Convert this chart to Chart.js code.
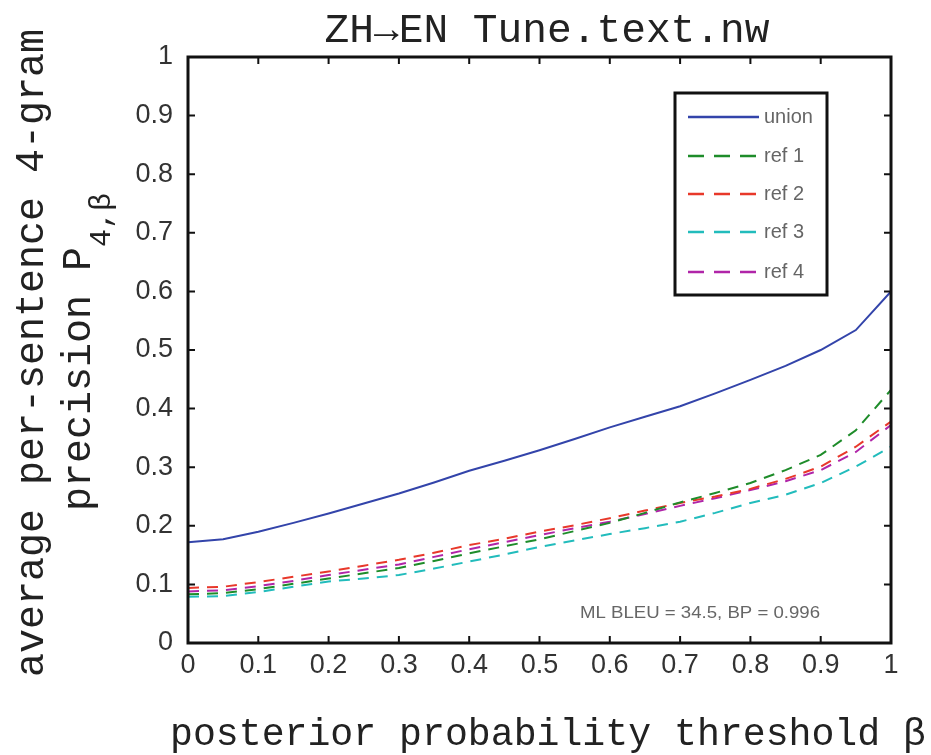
<!DOCTYPE html>
<html>
<head>
<meta charset="utf-8">
<script src="https://cdn.jsdelivr.net/npm/chart.js@4.4.1/dist/chart.umd.min.js"></script>
<style>
  html, body { margin: 0; padding: 0; background: #fff; }
  #wrap { width: 931px; height: 755px; }
</style>
</head>
<body>
<div id="wrap"><canvas id="precChart" width="931" height="755"></canvas></div>
<script>
// --- data ---
const betas = [0, 0.05, 0.1, 0.15, 0.2, 0.25, 0.3, 0.35, 0.4, 0.45, 0.5,
               0.55, 0.6, 0.65, 0.7, 0.75, 0.8, 0.85, 0.9, 0.95, 1];

const unionVals = [0.172, 0.177, 0.190, 0.205, 0.221, 0.238, 0.255, 0.274, 0.294, 0.311, 0.329,
                   0.348, 0.368, 0.386, 0.404, 0.426, 0.449, 0.473, 0.500, 0.534, 0.600];
const ref1Vals  = [0.083, 0.085, 0.092, 0.101, 0.110, 0.119, 0.128, 0.140, 0.153, 0.165, 0.177,
                   0.191, 0.205, 0.222, 0.240, 0.256, 0.273, 0.295, 0.321, 0.363, 0.432];
const ref2Vals  = [0.094, 0.096, 0.104, 0.113, 0.122, 0.132, 0.142, 0.154, 0.167, 0.178, 0.190,
                   0.201, 0.213, 0.226, 0.239, 0.250, 0.263, 0.280, 0.301, 0.335, 0.378];
const ref3Vals  = [0.079, 0.080, 0.087, 0.096, 0.105, 0.110, 0.116, 0.127, 0.139, 0.151, 0.164,
                   0.175, 0.186, 0.196, 0.207, 0.222, 0.239, 0.253, 0.273, 0.301, 0.335];
const ref4Vals  = [0.088, 0.090, 0.097, 0.106, 0.116, 0.125, 0.134, 0.147, 0.160, 0.172, 0.184,
                   0.196, 0.207, 0.220, 0.234, 0.247, 0.261, 0.276, 0.295, 0.326, 0.372];

const seriesLabels = ['union', 'ref 1', 'ref 2', 'ref 3', 'ref 4'];
const xTickLabels = ['0', '0.1', '0.2', '0.3', '0.4', '0.5', '0.6', '0.7', '0.8', '0.9', '1'];
const yTickLabels = ['0', '0.1', '0.2', '0.3', '0.4', '0.5', '0.6', '0.7', '0.8', '0.9', '1'];

const titleText = 'ZH\u2192EN Tune.text.nw';
const xTitle = 'posterior probability threshold \u03b2';
const yTitle1 = 'average per-sentence 4-gram';
const yTitle2 = 'precision P';
const yTitle2Sub = '4,\u03b2';
const noteText = 'ML BLEU = 34.5, BP = 0.996';

const colors = {
    blue: '#3344aa', green: '#1e8c2a', red: '#e8382a', cyan: '#22bcbc', magenta: '#b025a8'
};

const toPoints = vals => vals.map((v, i) => ({ x: betas[i], y: v }));
const DASH = [11, 8];

// draw text squeezed/stretched to a given width
function drawFit(ctx, text, x, y, font, width, align) {
    ctx.save();
    ctx.font = font;
    const w = ctx.measureText(text).width;
    const s = width / w;
    ctx.translate(x, y);
    ctx.scale(s, 1);
    ctx.textAlign = align || 'center';
    ctx.fillText(text, 0, 0);
    ctx.restore();
}

const frame = {
    id: 'frame',
    afterDraw(chart) {
        const ctx = chart.ctx;
        const a = chart.chartArea;
        const xs = chart.scales.x, ys = chart.scales.y;

        ctx.save();
        // box
        ctx.strokeStyle = '#111';
        ctx.lineWidth = 3;
        ctx.strokeRect(a.left, a.top, a.right - a.left, a.bottom - a.top);

        // inward ticks on all four sides
        ctx.lineWidth = 2;
        const tl = 7;
        ctx.beginPath();
        xs.ticks.forEach(t => {
            const px = xs.getPixelForValue(t.value);
            ctx.moveTo(px, a.bottom); ctx.lineTo(px, a.bottom - tl);
            ctx.moveTo(px, a.top); ctx.lineTo(px, a.top + tl);
        });
        ys.ticks.forEach(t => {
            const py = ys.getPixelForValue(t.value);
            ctx.moveTo(a.left, py); ctx.lineTo(a.left + tl, py);
            ctx.moveTo(a.right, py); ctx.lineTo(a.right - tl, py);
        });
        ctx.stroke();

        // title and axis titles
        ctx.fillStyle = '#222';
        ctx.textBaseline = 'alphabetic';
        drawFit(ctx, titleText, 547, 42, '41px "Liberation Mono"', 445);
        drawFit(ctx, xTitle, 548, 745, '38px "Liberation Mono"', 756);

        ctx.save();
        ctx.translate(43, 353);
        ctx.rotate(-Math.PI / 2);
        ctx.font = '40px "Liberation Mono"';
        ctx.textAlign = 'center';
        ctx.fillText(yTitle1, 0, 0);
        ctx.restore();

        ctx.save();
        ctx.translate(90, 511);
        ctx.rotate(-Math.PI / 2);
        ctx.font = '40px "Liberation Mono"';
        ctx.textAlign = 'left';
        ctx.fillText(yTitle2, 0, 0);
        const w2 = ctx.measureText(yTitle2).width;
        ctx.font = '30px "Liberation Mono"';
        ctx.fillText(yTitle2Sub, w2, 20);
        ctx.restore();

        // legend box
        const lx = 675, ly = 93, lw = 152, lh = 202;
        ctx.fillStyle = '#fff';
        ctx.fillRect(lx, ly, lw, lh);
        ctx.strokeStyle = '#111';
        ctx.lineWidth = 3;
        ctx.strokeRect(lx, ly, lw, lh);
        const rowY = [117, 156, 194, 232, 272];
        chart.data.datasets.forEach((ds, i) => {
            ctx.strokeStyle = ds.borderColor;
            ctx.lineWidth = 2.5;
            ctx.setLineDash(ds.borderDash && ds.borderDash.length ? [16, 10] : []);
            ctx.beginPath();
            ctx.moveTo(688, rowY[i]);
            ctx.lineTo(759, rowY[i]);
            ctx.stroke();
            ctx.setLineDash([]);
            ctx.fillStyle = '#666';
            ctx.font = '20px "Liberation Sans"';
            ctx.textAlign = 'left';
            ctx.textBaseline = 'middle';
            ctx.fillText(ds.label, 764, rowY[i]);
        });

        // note
        ctx.fillStyle = '#666';
        ctx.textBaseline = 'middle';
        drawFit(ctx, noteText, 580, 613, '17px "Liberation Sans"', 240, 'left');
        ctx.restore();
    }
};

new Chart(document.getElementById('precChart').getContext('2d'), {
    type: 'line',
    data: {
        datasets: [
            { label: seriesLabels[0], data: toPoints(unionVals), borderColor: colors.blue, borderWidth: 2 },
            { label: seriesLabels[1], data: toPoints(ref1Vals), borderColor: colors.green, borderWidth: 2, borderDash: DASH },
            { label: seriesLabels[2], data: toPoints(ref2Vals), borderColor: colors.red, borderWidth: 2, borderDash: DASH },
            { label: seriesLabels[3], data: toPoints(ref3Vals), borderColor: colors.cyan, borderWidth: 2, borderDash: DASH },
            { label: seriesLabels[4], data: toPoints(ref4Vals), borderColor: colors.magenta, borderWidth: 2, borderDash: DASH }
        ]
    },
    options: {
        responsive: false, animation: false, devicePixelRatio: 1,
        elements: { point: { radius: 0 }, line: { tension: 0, fill: false } },
        layout: { padding: { top: 57, right: 40, left: 0, bottom: 0 } },
        scales: {
            x: {
                type: 'linear', min: 0, max: 1,
                grid: { display: false, drawTicks: false },
                border: { display: false },
                ticks: {
                    stepSize: 0.1, padding: 6, color: '#333', maxRotation: 0,
                    font: { family: 'Liberation Sans', size: 27 },
                    callback: (v, i) => xTickLabels[i]
                },
                afterFit: s => { s.height = 112; }
            },
            y: {
                min: 0, max: 1,
                grid: { display: false, drawTicks: false },
                border: { display: false },
                ticks: {
                    stepSize: 0.1, padding: 15, color: '#333',
                    font: { family: 'Liberation Sans', size: 27 },
                    callback: (v, i) => yTickLabels[i]
                },
                afterFit: s => { s.width = 188; }
            }
        },
        plugins: { legend: { display: false }, title: { display: false }, tooltip: { enabled: false } }
    },
    plugins: [frame]
});
</script>
</body>
</html>
